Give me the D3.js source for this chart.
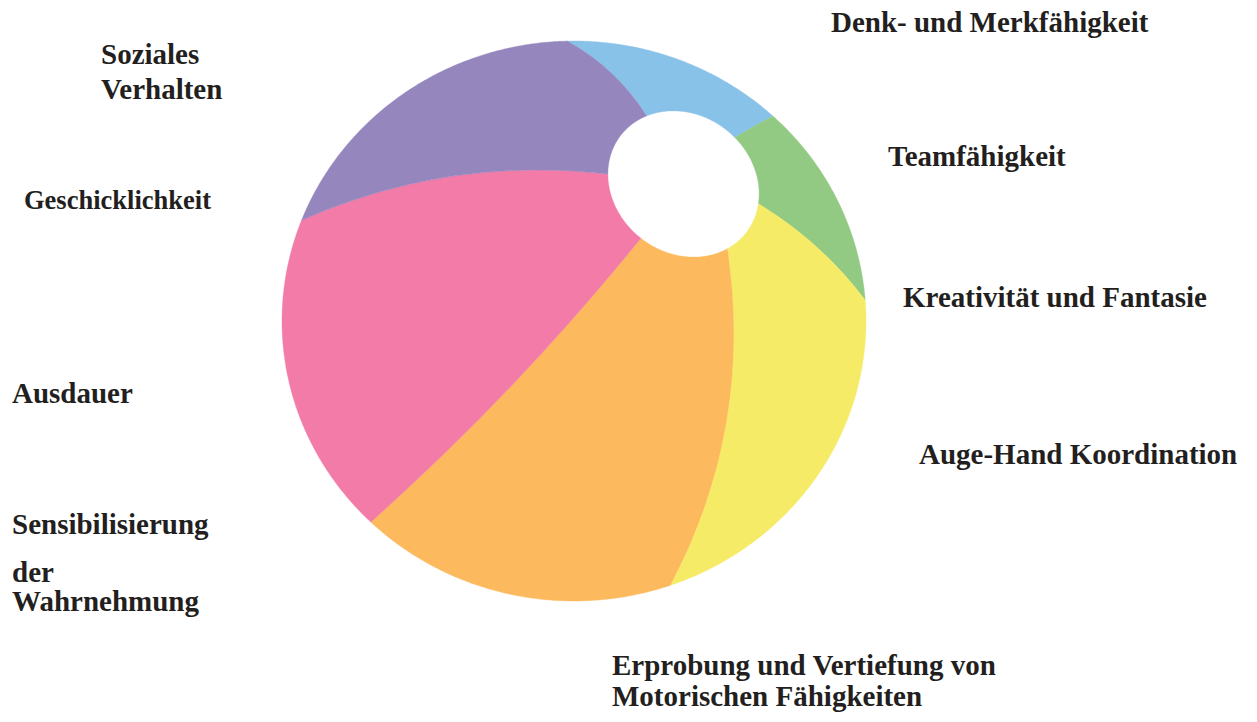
<!DOCTYPE html>
<html>
<head>
<meta charset="utf-8">
<script src="https://cdn.jsdelivr.net/npm/d3@7"></script>
<style>
  html, body { margin: 0; padding: 0; background: #ffffff; }
  svg { display: block; }
</style>
</head>
<body>
<svg id="chart" width="1257" height="722"></svg>
<script>
// ---------------- data ----------------
// Beach-ball segments, clockwise from the top
const categories = [
  "Denk- und Merkfähigkeit",
  "Teamfähigkeit",
  "Kreativität und Fantasie",
  "Erprobung und Vertiefung von Motorischen Fähigkeiten",
  "Geschicklichkeit",
  "Soziales Verhalten"
];
const segmentColors = ["#89c2e9", "#92ca84", "#f5eb66", "#fcb95d", "#f27ba8", "#9586bd"];
// seam i starts the segment i (clockwise), angles in degrees (0 = right, clockwise)
const seamHoleAngles = [-118.5, -42.3, 14.8, 56.0, 128.2, 187.5];
const seamRimAngles  = [-91.4, -45.9, -4.1, 70.0, 135.3, 200.3];
const seamBends      = [-7, 0, 7, 28, 8, -21];

// Label texts (lines)
const labelLines = [
  ["Soziales", "Verhalten"],
  ["Geschicklichkeit"],
  ["Ausdauer"],
  ["Sensibilisierung", "der", "Wahrnehmung"],
  ["Denk- und Merkfähigkeit"],
  ["Teamfähigkeit"],
  ["Kreativität und Fantasie"],
  ["Auge-Hand Koordination"],
  ["Erprobung und Vertiefung von", "Motorischen Fähigkeiten"]
];

// ---------------- layout ----------------
const ball = { cx: 574, cy: 321, rx: 292, ry: 280 };
const hole = { cx: 683.5, cy: 184, a: 79.4, b: 69, rot: 38 };
const labelLayout = [
  { x: 101, y: [64, 99] },
  { x: 24,  y: [209], size: 26.5 },
  { x: 12,  y: [403] },
  { x: 12,  y: [534, 582, 611] },
  { x: 831, y: [32] },
  { x: 888, y: [166] },
  { x: 903, y: [307] },
  { x: 919, y: [464] },
  { x: 612, y: [675, 706] }
];
const fontSize = 29;

const svg = d3.select("#chart");
const rad = d3.scaleLinear().domain([0, 360]).range([0, 2 * Math.PI]);

// point on the ball outline in a polar direction
function rimPoint(deg) {
  const t = rad(deg), c = Math.cos(t), s = Math.sin(t);
  const r = 1 / Math.sqrt((c * c) / (ball.rx * ball.rx) + (s * s) / (ball.ry * ball.ry));
  return [ball.cx + r * c, ball.cy + r * s];
}
// point on the (rotated elliptical) hole in a polar direction
function holePoint(deg) {
  const t = rad(deg), psi = rad(deg - hole.rot);
  const c = Math.cos(psi), s = Math.sin(psi);
  const r = 1 / Math.sqrt((c * c) / (hole.a * hole.a) + (s * s) / (hole.b * hole.b));
  return [hole.cx + r * Math.cos(t), hole.cy + r * Math.sin(t)];
}
function seamControl(p0, p1, bend) {
  const dx = p1[0] - p0[0], dy = p1[1] - p0[1];
  const L = Math.hypot(dx, dy);
  const nx = dy / L, ny = -dx / L;
  return [(p0[0] + p1[0]) / 2 + 2 * bend * nx, (p0[1] + p1[1]) / 2 + 2 * bend * ny];
}

const n = categories.length;
const segments = categories.map((name, i) => {
  const j = (i + 1) % n;
  const h0 = seamHoleAngles[i];
  let h1 = seamHoleAngles[j]; while (h1 <= h0) h1 += 360;
  const r0 = seamRimAngles[i];
  let r1 = seamRimAngles[j]; while (r1 <= r0) r1 += 360;
  return { name, color: segmentColors[i], h0, h1, r0, r1, b0: seamBends[i], b1: seamBends[j] };
});

function segmentPath(d) {
  const p = d3.path();
  const A0 = holePoint(d.h0), B0 = rimPoint(d.r0);
  const A1 = holePoint(d.h1), B1 = rimPoint(d.r1);
  p.moveTo(A0[0], A0[1]);
  const c0 = seamControl(A0, B0, d.b0);
  p.quadraticCurveTo(c0[0], c0[1], B0[0], B0[1]);
  const stepsR = Math.ceil((d.r1 - d.r0) * 2);
  for (let k = 1; k <= stepsR; k++) {
    const q = rimPoint(d.r0 + (d.r1 - d.r0) * k / stepsR);
    p.lineTo(q[0], q[1]);
  }
  const c1 = seamControl(A1, B1, d.b1);
  p.quadraticCurveTo(c1[0], c1[1], A1[0], A1[1]);
  const stepsH = Math.ceil((d.h1 - d.h0) * 2);
  for (let k = 1; k <= stepsH; k++) {
    const q = holePoint(d.h1 - (d.h1 - d.h0) * k / stepsH);
    p.lineTo(q[0], q[1]);
  }
  p.closePath();
  return p.toString();
}

svg.append("g").selectAll("path.segment")
  .data(segments)
  .join("path")
  .attr("class", "segment")
  .attr("d", segmentPath)
  .attr("fill", d => d.color)
  .attr("stroke", d => d.color)
  .attr("stroke-width", 0.4)
  .attr("stroke-linejoin", "round");

// labels
const gLabels = svg.append("g")
  .attr("font-family", "'Liberation Serif', 'Times New Roman', serif")
  .attr("font-weight", "bold")
  .attr("fill", "#231f20");

labelLines.forEach((lines, i) => {
  const L = labelLayout[i];
  const t = gLabels.append("text").attr("font-size", L.size || fontSize);
  lines.forEach((line, j) => {
    t.append("tspan").attr("x", L.x).attr("y", L.y[j]).text(line);
  });
});
</script>
</body>
</html>
